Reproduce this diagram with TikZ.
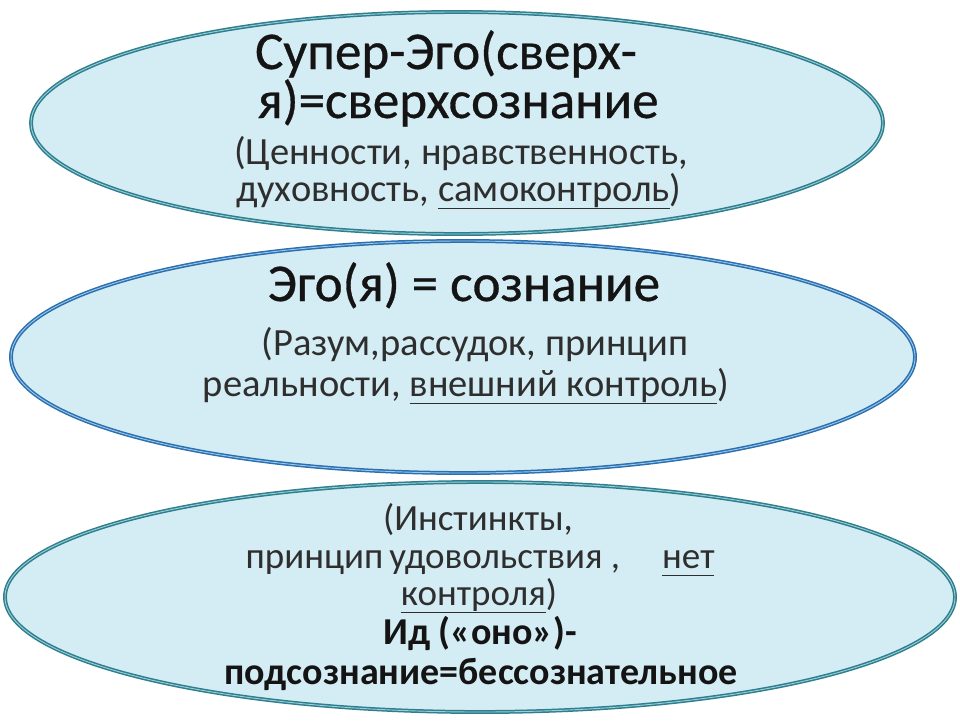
\documentclass[tikz,border=0pt]{standalone}
\usepackage{fontspec}
\setmainfont{Carlito}
\newfontfamily\heavy[FakeBold=0.6]{Carlito}
\usetikzlibrary{shapes.geometric}
\definecolor{fillc}{HTML}{D4ECF3}
\definecolor{tealc}{HTML}{2E7E8E}
\definecolor{tealin}{HTML}{9ACFD9}
\definecolor{bluec}{HTML}{2A6FB0}
\definecolor{bluein}{HTML}{9CC8EA}
\definecolor{txt}{HTML}{141414}
\definecolor{subtxt}{HTML}{2E2E2E}
\newcommand\myul[1]{\underline{#1\vphantom{р}}}
\tikzset{
  oval/.style 2 args={ellipse, fill=fillc, draw=#1, line width=1.5pt, double=#2, double distance=0.9pt, inner sep=0pt},
  ttl/.style={anchor=base, text=txt, inner sep=0pt, font=\heavy\fontsize{53}{56}\selectfont},
  sub/.style={anchor=base, text=subtxt, inner sep=0pt, font=\fontsize{38.5}{42}\selectfont},
  low/.style={anchor=base, text=subtxt, inner sep=0pt, font=\fontsize{37}{40}\selectfont},
  lowb/.style={anchor=base, text=txt, inner sep=0pt, font=\fontsize{38}{42}\selectfont\bfseries},
}
\begin{document}
\begin{tikzpicture}[x=1pt,y=-1pt]
\useasboundingbox[fill=white] (0,0) rectangle (960,720);
\node[oval={tealc}{tealin}, minimum width=852pt, minimum height=222pt] (e1) at (457,123) {};
\node[oval={bluec}{bluein}, minimum width=904pt, minimum height=232pt] (e2) at (463,357) {};
\node[oval={tealc}{tealin}, minimum width=950pt, minimum height=230pt] (e3) at (480,597) {};
% top
\node[ttl] (t1) at (446,69) {Супер-Эго(сверх-};
\node[ttl] (t2) at (458,118) {я)=сверхсознание};
\node[sub] (t3) at (461,164) {(Ценности, нравственность,};
\node[sub] (t4) at (459,201) {духовность, \myul{самоконтроль})};
% middle
\node[ttl] (m1) at (464,301) {Эго(я) = сознание};
\node[sub] (m2) at (475,355) {(Разум,рассудок, принцип};
\node[sub] (m3) at (466,396) {реальности, \myul{внешний контроль})};
% bottom
\node[low] (b1) at (478,530) {(Инстинкты,};
\node[low] (b2) at (480,568) {принцип\hspace{6pt}удовольствия ,\hspace{42pt}\myul{нет}};
\node[low] (b3) at (479,605) {\myul{контроля})};
\node[lowb] (b4) at (480,644) {Ид («оно»)-};
\node[lowb] (b5) at (481,684) {подсознание=бессознательное};
\end{tikzpicture}
\end{document}
